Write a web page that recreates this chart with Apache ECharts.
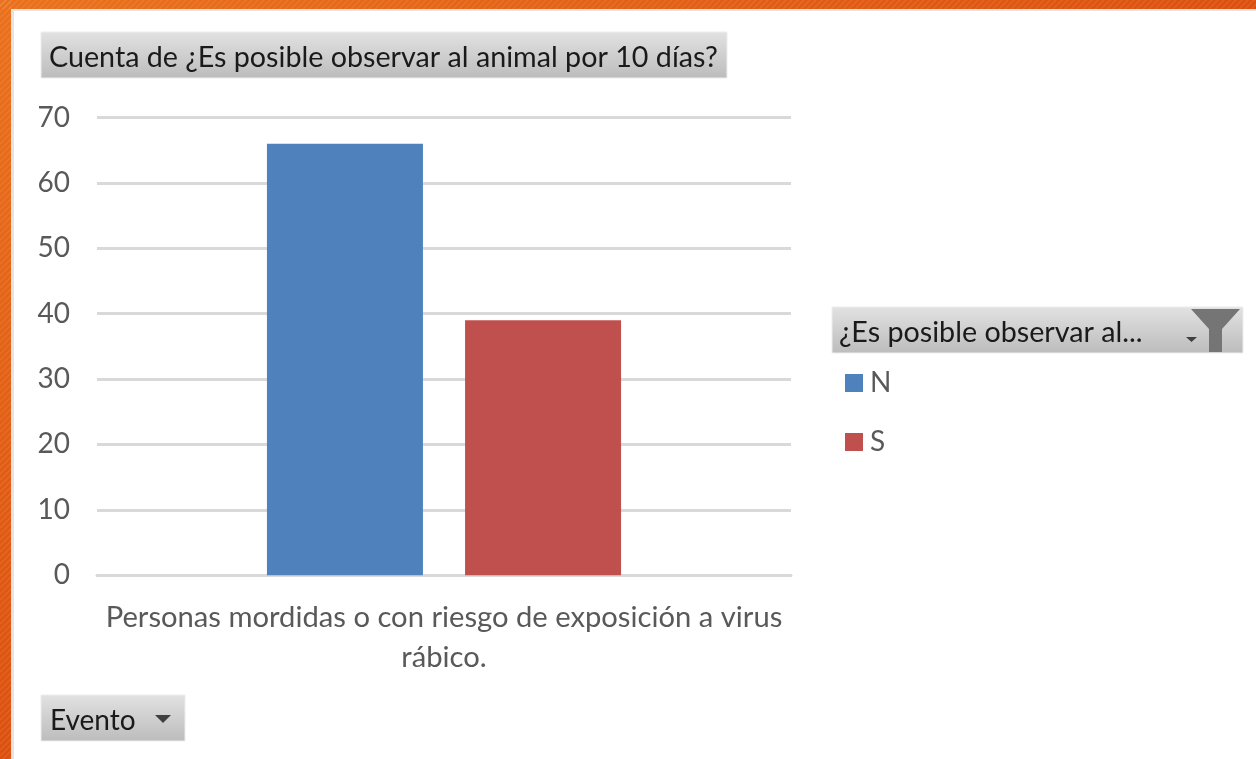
<!DOCTYPE html>
<html>
<head>
<meta charset="utf-8">
<style>html,body{margin:0;padding:0;background:#fff}#c{width:1256px;height:759px}</style>
<script src="https://cdn.jsdelivr.net/npm/echarts@6/dist/echarts.min.js"></script>
</head>
<body>
<div id="c"></div>
<script>
const categories = ['Personas mordidas o con riesgo de exposición a virus\nrábico.'];
const seriesNames = ['N', 'S'];
const valuesN = [66];
const valuesS = [39];
const colors = ['#4F81BD', '#C0504D'];
const titleText = 'Cuenta de ¿Es posible observar al animal por 10 días?';
const legendFieldText = '¿Es posible observar al...';
const axisFieldText = 'Evento';
const FONT = 'Lato';
const btnFill = {type:'linear',x:0,y:0,x2:0,y2:1,colorStops:[{offset:0,color:'#E2E2E2'},{offset:1,color:'#BCBCBC'}]};
const orange = {type:'linear',x:0,y:0,x2:1,y2:1,colorStops:[{offset:0,color:'#EA711C'},{offset:1,color:'#DC500E'}]};

// subtle diagonal hatch of the slide frame
const hatch = document.createElement('canvas');
hatch.width = hatch.height = 6;
const hc = hatch.getContext('2d');
hc.strokeStyle = 'rgba(255,255,255,0.09)';
hc.lineWidth = 1.5;
hc.beginPath();
hc.moveTo(-1,7); hc.lineTo(7,-1);
hc.moveTo(-1,1); hc.lineTo(1,-1);
hc.moveTo(5,7); hc.lineTo(7,5);
hc.stroke();
const hatchFill = {image:hatch,repeat:'repeat'};

function button(x,y,w,h,text,tx,size){
  return [
    {type:'rect',shape:{x,y,width:w,height:h},style:{fill:btnFill,stroke:'#EDEDED',lineWidth:1},z:5},
    {type:'text',x:tx,y:y+h/2+2.5,style:{text,font:size+'px '+FONT,fill:'#1A1A1A',verticalAlign:'middle',align:'left'},z:6}
  ];
}
const chart = echarts.init(document.getElementById('c'),null,{renderer:'canvas'});
chart.setOption({
  animation:false,
  backgroundColor:'#fff',
  grid:{left:97,right:465,top:117.6,height:457.6,containLabel:false},
  xAxis:{type:'category',data:categories,
    axisLine:{lineStyle:{color:'#D9D9D9',width:3}},axisTick:{show:false},
    axisLabel:{color:'#595959',fontFamily:FONT,fontSize:29.2,lineHeight:40,margin:22}},
  yAxis:{type:'value',min:0,max:70,interval:10,
    axisLine:{show:false},axisTick:{show:false},
    splitLine:{lineStyle:{color:'#D9D9D9',width:3}},
    axisLabel:{color:'#595959',fontFamily:FONT,fontSize:28,margin:27}},
  legend:{show:true,orient:'vertical',left:845,top:369,padding:0,itemWidth:18,itemHeight:18,itemGap:31,icon:'rect',
    data:seriesNames,selectedMode:false,
    textStyle:{color:'#595959',fontFamily:FONT,fontSize:28,padding:[0,0,0,2]}},
  series:[
    {name:seriesNames[0],type:'bar',data:valuesN,itemStyle:{color:colors[0]},barWidth:156,barGap:'27%'},
    {name:seriesNames[1],type:'bar',data:valuesS,itemStyle:{color:colors[1]},barWidth:156,barGap:'27%'}
  ],
  graphic:[
    {type:'rect',shape:{x:0,y:0,width:1256,height:9},style:{fill:orange},z:1},
    {type:'rect',shape:{x:0,y:0,width:11,height:759},style:{fill:orange},z:1},
    {type:'rect',shape:{x:0,y:0,width:1256,height:9},style:{fill:hatchFill},z:2},
    {type:'rect',shape:{x:0,y:0,width:11,height:759},style:{fill:hatchFill},z:2},
    {type:'rect',shape:{x:11,y:9,width:1245,height:2},style:{fill:'#E4E4E4'},z:1},
    {type:'rect',shape:{x:11,y:9,width:3,height:750},style:{fill:'#E4E4E4'},z:1},
    ...button(41,32,686,46,titleText,49,28.7),
    ...button(832,307,411,46,legendFieldText,839,28.7),
    ...button(41,695,144,46,axisFieldText,50,28),
    {type:'polygon',shape:{points:[[1191,309],[1240,309],[1222,329],[1222,352],[1209,352],[1209,329]]},style:{fill:'#757575'},z:7},
    {type:'polygon',shape:{points:[[1186,337],[1197,337],[1191.5,342]]},style:{fill:'#404040'},z:7},
    {type:'polygon',shape:{points:[[155,715],[171,715],[163,723]]},style:{fill:'#404040'},z:7}
  ]
});
</script>
</body>
</html>
